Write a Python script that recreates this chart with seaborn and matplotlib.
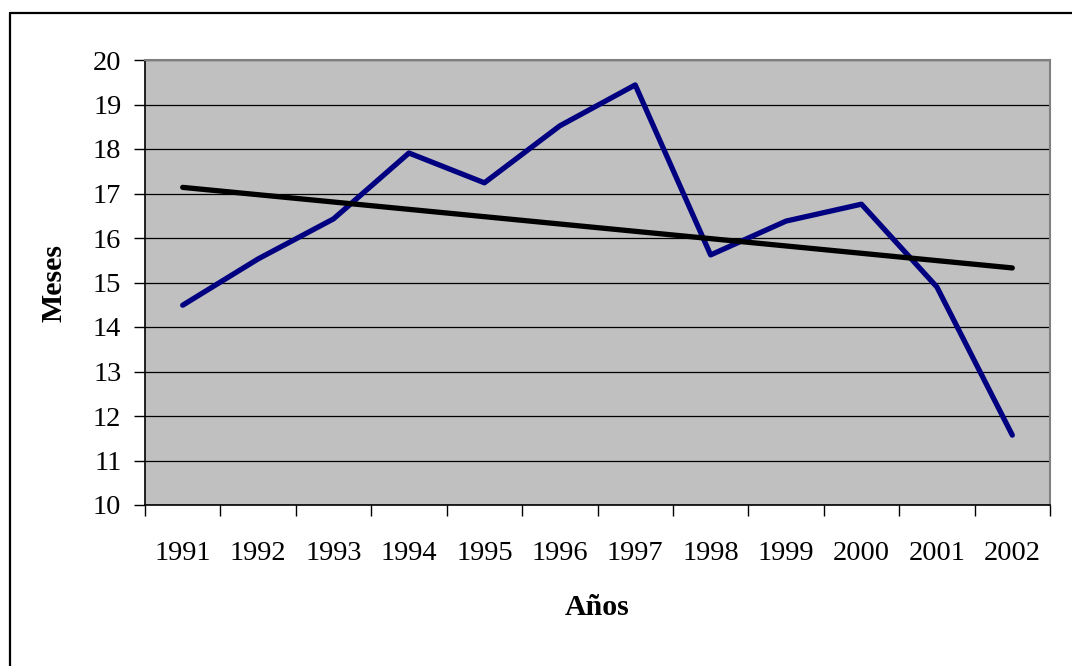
import numpy as np
import pandas as pd
import matplotlib
matplotlib.use("Agg")
import matplotlib.pyplot as plt
from matplotlib.lines import Line2D
from matplotlib.ticker import FixedLocator, NullFormatter, FixedFormatter
import seaborn as sns

years = ["1991", "1992", "1993", "1994", "1995", "1996",
         "1997", "1998", "1999", "2000", "2001", "2002"]
meses = [14.49, 15.53, 16.43, 17.91, 17.24, 18.52,
         19.44, 15.62, 16.38, 16.76, 14.90, 11.57]
y_ticks = list(range(10, 21))

sns.set_theme(style="white")
plt.rcParams['font.family'] = ['Liberation Serif', 'DejaVu Serif']
plt.rcParams['text.color'] = 'black'
plt.rcParams['axes.labelcolor'] = 'black'
plt.rcParams['xtick.color'] = 'black'
plt.rcParams['ytick.color'] = 'black'

W, H = 1072, 666
fig = plt.figure(figsize=(W / 100, H / 100), dpi=100)
ax = fig.add_axes([145 / W, 1 - 505 / H, (1050 - 145) / W, (505 - 60) / H])
ax.set_facecolor("#C0C0C0")

df = pd.DataFrame({"pos": np.arange(len(years)), "Meses": meses, "Año": years})

sns.lineplot(data=df, x="pos", y="Meses", ax=ax, color="#000080",
             linewidth=3.8, zorder=3)
sns.regplot(data=df, x="pos", y="Meses", ax=ax, scatter=False, ci=None,
            color="black", line_kws=dict(linewidth=3.8, zorder=4),
            truncate=True)

ax.set_xlim(-0.5, len(years) - 0.5)
ax.set_ylim(10, 20)
ax.set_yticks(y_ticks)
ax.yaxis.grid(True, color="black", linewidth=0.9)
ax.set_axisbelow(True)

# x ticks: major at category boundaries (no labels), minor at centers (labels)
ax.xaxis.set_major_locator(FixedLocator(np.arange(-0.5, len(years), 1.0)))
ax.xaxis.set_major_formatter(NullFormatter())
ax.xaxis.set_minor_locator(FixedLocator(np.arange(len(years))))
ax.xaxis.set_minor_formatter(FixedFormatter(years))
ax.tick_params(axis="x", which="major", direction="out", length=8,
               width=1, color="black", bottom=True)
ax.tick_params(axis="x", which="minor", length=0, pad=26, labelsize=20.5,
               bottom=True)
ax.tick_params(axis="y", which="major", direction="out", length=8, width=1,
               color="black", left=True, labelsize=20.5, pad=9)

for side in ["left", "bottom"]:
    ax.spines[side].set_color("black")
    ax.spines[side].set_linewidth(1.2)
for side in ["top", "right"]:
    ax.spines[side].set_visible(True)
    ax.spines[side].set_color("#808080")
    ax.spines[side].set_linewidth(1.5)

ax.set_xlabel("Años", fontsize=21.5, fontweight="bold", labelpad=20)
ax.set_ylabel("Meses", fontsize=21.5, fontweight="bold", labelpad=18)

# outer chart border (top and left visible)
fig.add_artist(Line2D([10 / W, 1.0], [1 - 13 / H, 1 - 13 / H],
                      transform=fig.transFigure, color="black", linewidth=1.6))
fig.add_artist(Line2D([10 / W, 10 / W], [0.0, 1 - 13 / H],
                      transform=fig.transFigure, color="black", linewidth=1.6))

fig.savefig("out.png", dpi=100, facecolor="white")
